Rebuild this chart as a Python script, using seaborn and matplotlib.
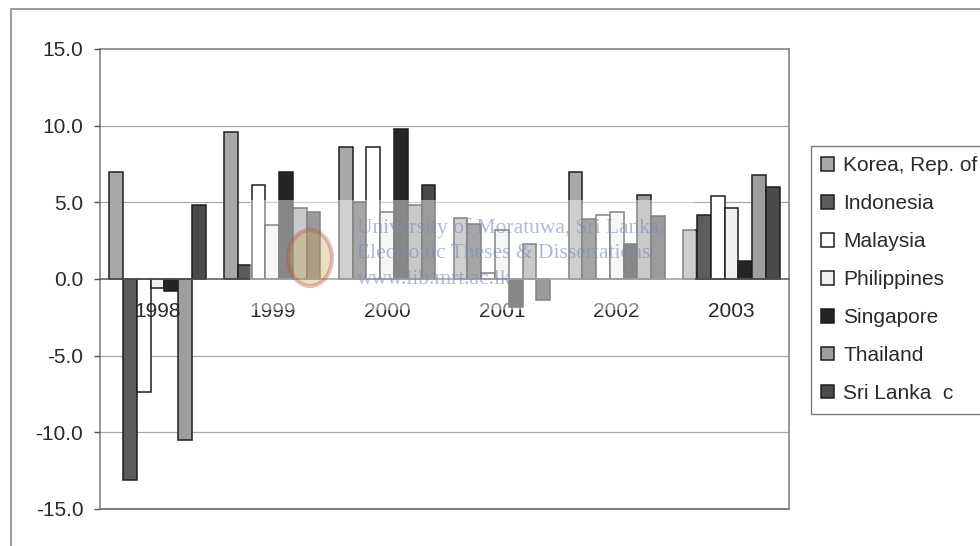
import matplotlib
matplotlib.use("Agg")
import matplotlib.pyplot as plt
import seaborn as sns
import pandas as pd
from matplotlib.patches import Rectangle, Ellipse

# Real GDP growth (%) by economy, 1998-2003
years = ["1998", "1999", "2000", "2001", "2002", "2003"]
countries = ["Korea, Rep. of", "Indonesia", "Malaysia", "Philippines",
             "Singapore", "Thailand", "Sri Lanka  c"]
korea = [7.0, 9.6, 8.6, 4.0, 7.0, 3.2]
indonesia = [-13.1, 0.9, 5.0, 3.6, 3.9, 4.2]
malaysia = [-7.4, 6.1, 8.6, 0.4, 4.2, 5.4]
philippines = [-0.6, 3.5, 4.4, 3.2, 4.4, 4.6]
singapore = [-0.8, 7.0, 9.8, -1.8, 2.3, 1.2]
thailand = [-10.5, 4.6, 4.8, 2.3, 5.5, 6.8]
sri_lanka = [4.8, 4.4, 6.1, -1.4, 4.1, 6.0]
colors = ["#a8a8a8", "#5c5c5c", "#ffffff", "#f0f0f0", "#252525", "#9e9e9e", "#4a4a4a"]

series = [korea, indonesia, malaysia, philippines, singapore, thailand, sri_lanka]
df = pd.DataFrame(
    [(y, c, v) for c, vals in zip(countries, series) for y, v in zip(years, vals)],
    columns=["year", "country", "value"],
)

sns.set_style("white")
plt.rcParams["font.family"] = ["Liberation Sans", "DejaVu Sans"]

W, H = 980, 546
fig = plt.figure(figsize=(W / 100, H / 100), dpi=100)
ax = fig.add_axes([100 / W, 1 - 509 / H, 689 / W, 460 / H])

sns.barplot(data=df, x="year", y="value", hue="country", order=years,
            hue_order=countries, palette=colors, saturation=1, width=0.84,
            edgecolor="#1e1e1e", linewidth=1.1, ax=ax)

ax.set_ylim(-15, 15)
ax.set_xlim(-0.5, 5.5)
ax.set_yticks(range(-15, 16, 5))
ax.set_yticklabels([f"{v:.1f}" for v in range(-15, 16, 5)])
ax.set_xlabel("")
ax.set_ylabel("")

# gridlines behind the bars, axis labels drawn on top of them
for v in range(-10, 15, 5):
    if v != 0:
        ax.axhline(v, color="#a8a8a8", linewidth=0.9, zorder=0.5)
ax.set_axisbelow(False)

for side in ["top", "right", "left"]:
    ax.spines[side].set_color("#7a7a7a")
    ax.spines[side].set_linewidth(1.1)
ax.spines["bottom"].set_position(("data", 0))
ax.spines["bottom"].set_color("#555555")
ax.spines["bottom"].set_linewidth(1.1)
ax.axhline(-15, color="#7a7a7a", linewidth=1.4, clip_on=False, zorder=5)

ax.set_xticks([i + 0.5 for i in range(5)], minor=True)
ax.tick_params(axis="x", which="major", length=0, pad=16.5, labelsize=15,
               labelcolor="#2a2a2a")
ax.tick_params(axis="x", which="minor", length=4, width=1, color="#555555",
               direction="out")
ax.tick_params(axis="y", length=4, width=1, color="#555555", direction="out",
               pad=8, labelsize=15, labelcolor="#2a2a2a", left=True)

handles, labels = ax.get_legend_handles_labels()
leg = ax.legend(handles, labels, loc="upper left",
                bbox_to_anchor=(811 / W, 1 - 146 / H), bbox_transform=fig.transFigure,
                fontsize=15, frameon=True, fancybox=False, framealpha=1,
                edgecolor="#7a7a7a", handlelength=0.6, handleheight=0.6,
                handletextpad=0.45, labelspacing=0.91, borderpad=0.5,
                borderaxespad=0)
leg.get_frame().set_linewidth(1.0)
leg.set_zorder(6)
for t in leg.get_texts():
    t.set_color("#2a2a2a")

# outer chart frame
fig.patches.append(Rectangle((11 / W, -0.05), 1.2, 1 - 9 / H + 0.05,
                             transform=fig.transFigure, fill=False,
                             edgecolor="#8a8a8a", linewidth=1.2))

# library watermark
fig.patches.append(Rectangle((250 / W, 1 - 310 / H), 445 / W, 110 / H,
                             transform=fig.transFigure, facecolor="white",
                             edgecolor="none", alpha=0.45, zorder=10))
fig.patches.append(Ellipse((310 / W, 1 - 258 / H), 44 / W, 56 / H,
                           transform=fig.transFigure, facecolor="#c9a25a",
                           edgecolor="#b05040", linewidth=3, alpha=0.35, zorder=11))
wm = dict(color="#7d8db8", alpha=0.6, fontsize=15.5,
          family=["Liberation Serif", "DejaVu Serif"], zorder=12, va="center")
fig.text(357 / W, 1 - 228 / H, "University of Moratuwa, Sri Lanka.", **wm)
fig.text(357 / W, 1 - 253 / H, "Electronic Theses & Dissertations", **wm)
fig.text(357 / W, 1 - 280 / H, "www.lib.mrt.ac.lk", **wm)

fig.savefig("out.png", dpi=100)
